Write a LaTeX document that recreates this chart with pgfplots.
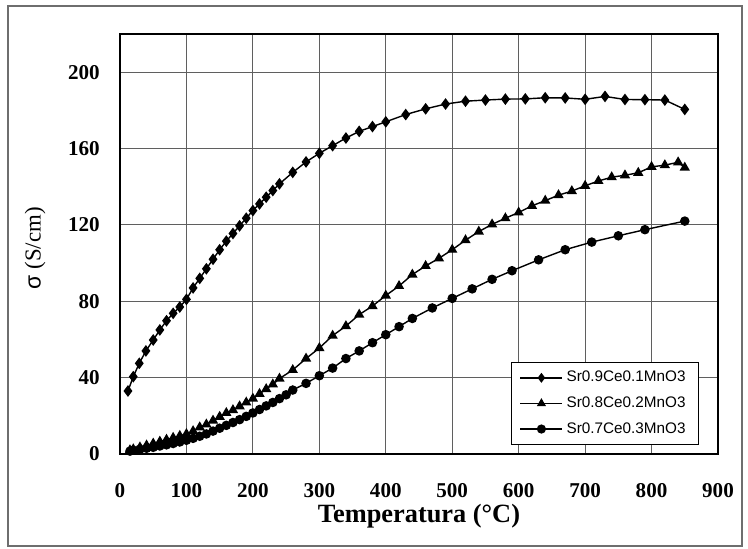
\documentclass[border=0pt]{standalone}
\usepackage{fontspec}
\setmainfont{Liberation Serif}
\setsansfont{Liberation Sans}
\usepackage{pgfplots}
\pgfplotsset{compat=1.18}
\definecolor{gridgray}{RGB}{95,95,95}
\definecolor{framegray}{RGB}{110,110,110}
\begin{document}
\begin{tikzpicture}
\useasboundingbox (-2.4,-1.9) rectangle (12.56,9.08);
\draw[framegray, line width=0.8pt] (-2.24,-1.84) rectangle (12.44,8.96);
\begin{axis}[
  at={(0,0)}, anchor=south west,
  scale only axis,
  width=11.96cm, height=8.4cm,
  xmin=0, xmax=900, ymin=0, ymax=220,
  xtick={0,100,...,900},
  ytick={0,40,...,200},
  major tick length=0pt,
  grid=major,
  major grid style={gridgray, line width=0.6pt},
  axis line style={black, line width=0.8pt},
  /pgf/number format/assume math mode=true,
  ticklabel style={font=\fontsize{12}{14}\selectfont\bfseries},
  xticklabel style={yshift=-13pt},
  yticklabel style={xshift=-8pt},
  xlabel={Temperatura (°C)},
  ylabel={{\sffamily σ} (S/cm)},
  xlabel style={font=\fontsize{15}{17}\selectfont\bfseries, at={(axis description cs:0.5,-0.148)}, anchor=center},
  ylabel style={font=\fontsize{13}{15}\selectfont, at={(axis description cs:-0.142,0.49)}, anchor=center},
  legend style={at={(rel axis cs:0.967,0.219)}, anchor=north east,
    draw=black, fill=white,
    font=\sffamily\fontsize{8.7}{10}\selectfont,
    row sep=3pt, inner xsep=5pt, inner ysep=3pt},
  legend cell align=left,
  legend image code/.code={\draw[line width=0.8pt, mark size=2.2pt, mark repeat=2, mark phase=2] plot coordinates {(0cm,0cm) (0.42cm,0cm) (0.84cm,0cm)};},
  every axis plot/.append style={black, line width=0.8pt, mark options={solid, fill=black}},
]
% Sr0.9Ce0.1MnO3
\addplot[mark=diamond*, mark size=2.7pt] table {
12 33
20 40.5
29 47.5
39 54
50 59.7
60 65
70 69.8
80 73.7
90 77
100 81
110 87
120 92
130 97
140 102
150 107
160 111.5
170 115.5
180 119.5
190 123.5
200 127.5
210 131
220 134.5
230 138
240 141.5
260 147.5
280 153
300 157.5
320 161.5
340 165.5
360 169
380 171.5
400 174
430 177.8
460 180.8
490 183.3
520 184.8
550 185.4
580 185.9
610 186
640 186.6
670 186.5
700 185.8
730 187.3
760 185.7
790 185.6
820 185.4
850 180.5
};
\addlegendentry{Sr0.9Ce0.1MnO3}
% Sr0.8Ce0.2MnO3
\addplot[mark=triangle*, mark size=2.6pt] table {
15 2
20 2.5
30 3.5
40 4.5
50 5.5
60 6.5
70 7.5
80 8.5
90 9.5
100 10.5
110 12
120 14
130 15.5
140 17.5
150 19.5
160 21.5
170 23
180 25
190 27
200 29
210 31.5
220 34
230 36.5
240 39.5
260 44
280 50
300 55.5
320 62
340 67
360 73
380 77.5
400 83
420 88
440 94
460 98.5
480 102.5
500 107
520 112
540 116.5
560 120.3
580 123.5
600 126.5
620 130
640 132.7
660 135.6
680 137.7
700 140.5
720 143
740 145
760 146
780 147.3
800 150.4
820 151.3
840 152.8
850 150
};
\addlegendentry{Sr0.8Ce0.2MnO3}
% Sr0.7Ce0.3MnO3
\addplot[mark=*, mark size=2.3pt] table {
15 1.5
20 2
30 2.5
40 3
50 3.5
60 4.2
70 4.8
80 5.5
90 6.3
100 7.2
110 8.2
120 9.3
130 10.5
140 12
150 13.5
160 15
170 16.5
180 18
190 19.7
200 21.5
210 23.3
220 25.2
230 27
240 29
250 31
260 33.5
280 37
300 41
320 45
340 50
360 54
380 58.3
400 62.5
420 66.7
440 71
470 76.5
500 81.5
530 86.5
560 91.5
590 96
630 101.7
670 107
710 111
750 114.3
790 117.5
850 122
};
\addlegendentry{Sr0.7Ce0.3MnO3}
\end{axis}
\end{tikzpicture}
\end{document}
